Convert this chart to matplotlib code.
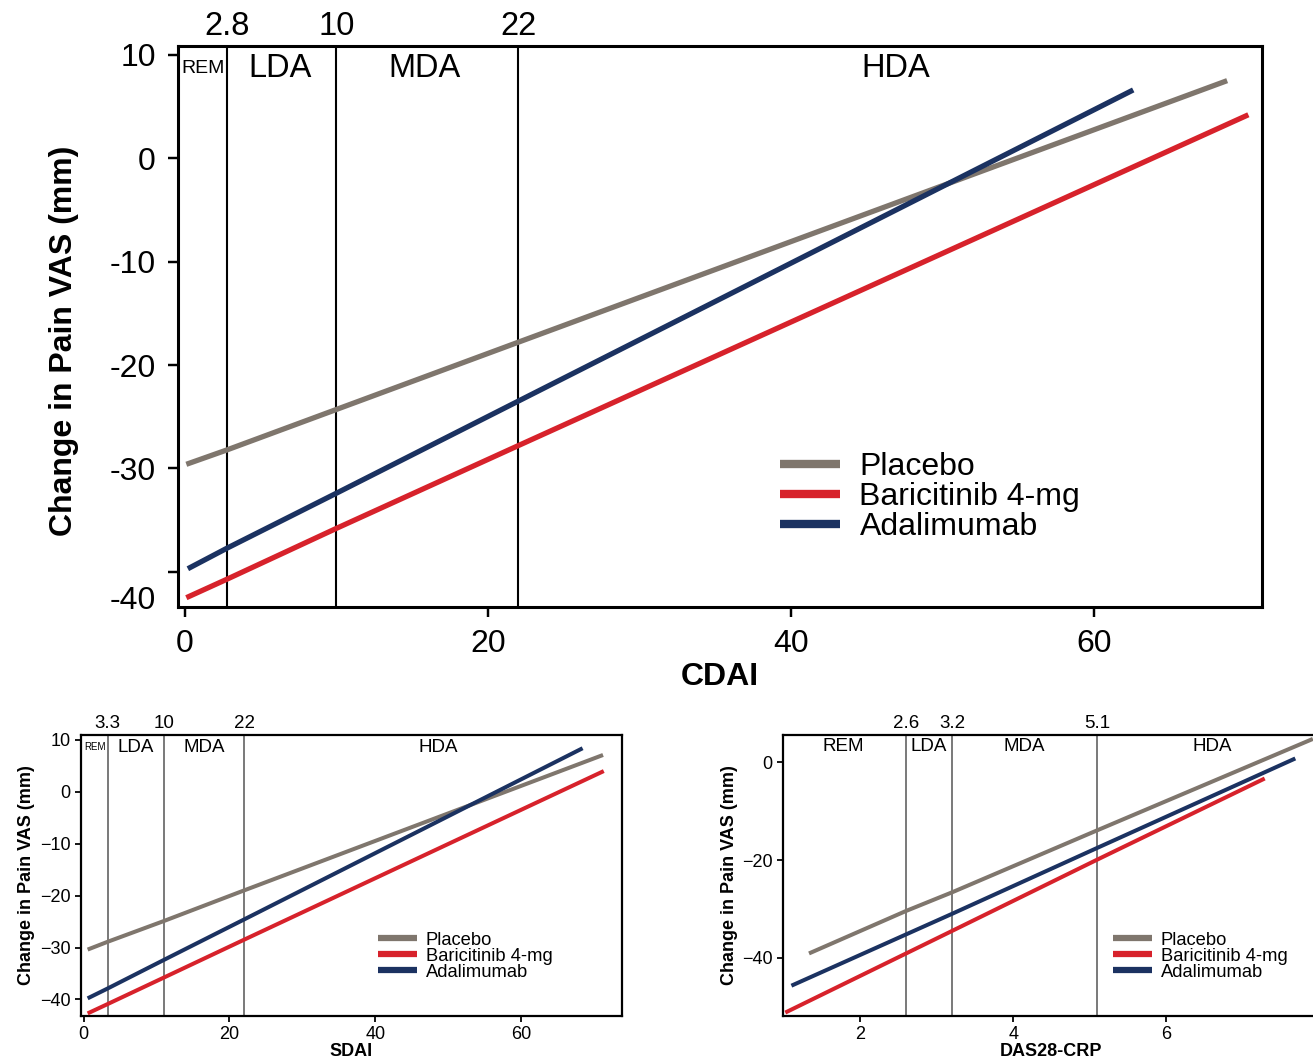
import matplotlib
matplotlib.use("Agg")
import matplotlib.pyplot as plt

plt.rcParams['font.family'] = ['Liberation Sans', 'DejaVu Sans']

# ---------------- data ----------------
series_names = ["Placebo", "Baricitinib 4-mg", "Adalimumab"]
series_colors = ["#7f766d", "#d7222b", "#1b3261"]

# CDAI panel
cdai_cuts = [2.8, 10, 22]
cdai_cut_labels = ["2.8", "10", "22"]
cdai_regions = ["REM", "LDA", "MDA", "HDA"]
cdai_region_x = [1.2, 6.3, 15.8, 46.9]
cdai_x_placebo = [0.1, 2.8, 10, 22, 68.8]
cdai_y_placebo = [-29.6, -28.2, -24.3, -17.8, 7.5]
cdai_x_bari = [0.1, 2.8, 10, 22, 70.2]
cdai_y_bari = [-42.5, -40.7, -35.8, -27.8, 4.2]
cdai_x_ada = [0.2, 2.8, 10, 22, 62.6]
cdai_y_ada = [-39.7, -37.7, -32.4, -23.5, 6.6]
cdai_xticks = [0, 20, 40, 60]
cdai_yticks = [-40, -30, -20, -10, 0, 10]

# SDAI panel
sdai_cuts = [3.3, 11, 22]
sdai_cut_labels = ["3.3", "10", "22"]
sdai_regions = ["REM", "LDA", "MDA", "HDA"]
sdai_region_x = [1.6, 7.1, 16.5, 48.6]
sdai_x_placebo = [0.56, 3.3, 11, 22, 71.2]
sdai_y_placebo = [-30.4, -28.9, -24.9, -19.0, 7.1]
sdai_x_bari = [0.56, 3.3, 11, 22, 71.3]
sdai_y_bari = [-42.7, -40.9, -35.8, -28.5, 4.0]
sdai_x_ada = [0.56, 3.3, 11, 22, 68.4]
sdai_y_ada = [-39.8, -37.9, -32.4, -24.6, 8.4]
sdai_xticks = [0, 20, 40, 60]
sdai_yticks = [-40, -30, -20, -10, 0, 10]

# DAS28-CRP panel
das_cuts = [2.6, 3.2, 5.1]
das_cut_labels = ["2.6", "3.2", "5.1"]
das_regions = ["REM", "LDA", "MDA", "HDA"]
das_region_x = [1.78, 2.9, 4.15, 6.61]
das_x_placebo = [1.33, 2.6, 3.2, 5.1, 7.92]
das_y_placebo = [-39.1, -30.4, -26.6, -13.9, 4.8]
das_x_bari = [1.02, 2.6, 3.2, 5.1, 7.29]
das_y_bari = [-51.2, -39.1, -34.5, -19.9, -3.3]
das_x_ada = [1.10, 2.6, 3.2, 5.1, 7.69]
das_y_ada = [-45.7, -35.2, -31.0, -17.5, 0.8]
das_xticks = [2, 4, 6]
das_yticks = [-40, -20, 0]

W, H = 1313, 1061
fig = plt.figure(figsize=(W / 100, H / 100), dpi=100)


def px_axes(l, t, r, b):
    return fig.add_axes([l / W, 1 - b / H, (r - l) / W, (b - t) / H])


def panel(ax, xs, ys, cuts, cut_labels, regions, region_x, region_y,
          xlim, ylim, xticks, yticks, xlabel, big, rem_small, cut_color,
          legend_anchor, ylabelpad, xlabelpad):
    if big:
        fs_tick, fs_lab, fs_reg, fs_leg, fs_cut = 23, 23, 23.5, 23, 23.5
        lw_data, lw_leg, lw_cut, lw_spine = 3.8, 6.0, 1.5, 2.2
        tick_len, tick_pad = 7, 9
    else:
        fs_tick, fs_lab, fs_reg, fs_leg, fs_cut = 13, 13, 13.5, 13.2, 13.5
        lw_data, lw_leg, lw_cut, lw_spine = 2.9, 4.5, 1.1, 1.6
        tick_len, tick_pad = 4.5, 3
    for c in cuts:
        ax.axvline(c, color=cut_color, lw=lw_cut, zorder=1)
    lines = []
    for x, y, name, col in zip(xs, ys, series_names, series_colors):
        ln, = ax.plot(x, y, color=col, lw=lw_data, label=name,
                      solid_capstyle='butt', zorder=3)
        lines.append(ln)
    ax.set_xlim(*xlim)
    ax.set_ylim(*ylim)
    ax.set_xticks(xticks)
    ax.set_yticks(yticks)
    ax.tick_params(direction='out', length=tick_len, width=lw_spine * 0.8,
                   labelsize=fs_tick, pad=tick_pad)
    for s in ax.spines.values():
        s.set_linewidth(lw_spine)
    ax.set_ylabel("Change in Pain VAS (mm)", fontsize=fs_lab,
                  fontweight='bold', labelpad=ylabelpad)
    ax.set_xlabel(xlabel, fontsize=fs_lab, fontweight='bold',
                  labelpad=xlabelpad)
    for c, lab in zip(cuts, cut_labels):
        ax.annotate(lab, xy=(c, 1), xycoords=('data', 'axes fraction'),
                    xytext=(0, 3 if big else 2), textcoords='offset points',
                    ha='center', va='bottom', fontsize=fs_cut)
    for i, (r, rx) in enumerate(zip(regions, region_x)):
        fs = fs_reg
        if i == 0 and rem_small:
            fs = 14 if big else 7
        ax.text(rx, region_y, r, ha='center', va='center', fontsize=fs)
    leg = ax.legend(handles=lines, loc='center left', bbox_to_anchor=legend_anchor,
                    frameon=False, fontsize=fs_leg, borderpad=0,
                    labelspacing=0.0 if big else -0.05,
                    handlelength=1.9 if big else 2.1,
                    handletextpad=0.6 if big else 0.5,
                    borderaxespad=0)
    for l in leg.get_lines():
        l.set_linewidth(lw_leg)
    return ax


# main CDAI panel
ax1 = px_axes(178, 46, 1262, 607)
panel(ax1, [cdai_x_placebo, cdai_x_bari, cdai_x_ada],
      [cdai_y_placebo, cdai_y_bari, cdai_y_ada],
      cdai_cuts, cdai_cut_labels, cdai_regions, cdai_region_x, 8.7,
      (-0.45, 71.1), (-43.4, 10.85), cdai_xticks, cdai_yticks, "CDAI",
      True, True, 'black', (0.555, 0.196), 20, 2)
ax1.yaxis.set_label_coords(-0.091, 0.474)
# shift the lowest y tick label below its tick, as in the reference
ax1.set_yticklabels(["" if t == -40 else str(t) for t in cdai_yticks])
ax1.annotate("-40", xy=(0, -40), xycoords=('axes fraction', 'data'),
             xytext=(-16, -21), textcoords='offset points',
             ha='right', va='center', fontsize=23)

# SDAI panel
ax2 = px_axes(81, 735, 622, 1016)
panel(ax2, [sdai_x_placebo, sdai_x_bari, sdai_x_ada],
      [sdai_y_placebo, sdai_y_bari, sdai_y_ada],
      sdai_cuts, sdai_cut_labels, sdai_regions, sdai_region_x, 8.6,
      (-0.35, 73.8), (-43.2, 10.95), sdai_xticks, sdai_yticks, "SDAI",
      False, True, '#555555', (0.549, 0.213), 3.5, -0.5)

# DAS28-CRP panel
ax3 = px_axes(783, 735, 1319, 1016)
panel(ax3, [das_x_placebo, das_x_bari, das_x_ada],
      [das_y_placebo, das_y_bari, das_y_ada],
      das_cuts, das_cut_labels, das_regions, das_region_x, 3.3,
      (0.99, 8.0), (-51.9, 5.6), das_xticks, das_yticks, "DAS28-CRP",
      False, False, '#555555', (0.616, 0.213), 3, -0.5)

fig.savefig("out.png", dpi=100)
